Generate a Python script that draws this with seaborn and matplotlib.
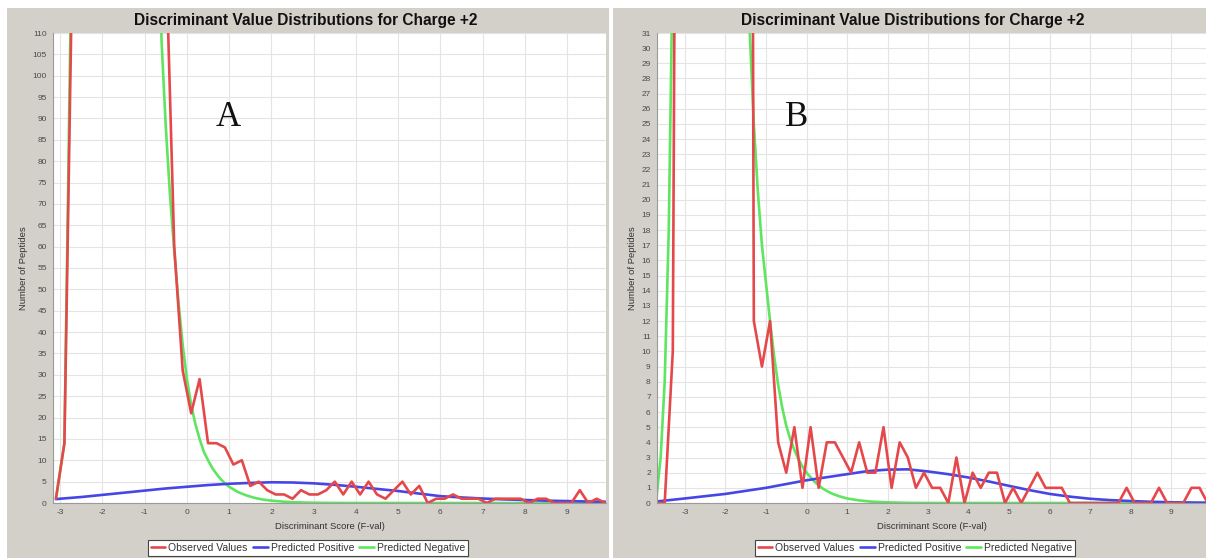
import numpy as np
import pandas as pd
import matplotlib
matplotlib.use("Agg")
import matplotlib.pyplot as plt
from matplotlib.patches import Rectangle
from matplotlib.lines import Line2D
import seaborn as sns

# ---------------- data ----------------
TITLE = "Discriminant Value Distributions for Charge +2"
XLABEL = "Discriminant Score (F-val)"
YLABEL = "Number of Peptides"
SERIES = ["Observed Values", "Predicted Positive", "Predicted Negative"]
COLORS = {"Observed Values": "#E5484B",
          "Predicted Positive": "#4646E6",
          "Predicted Negative": "#5FE55F"}

# Panel A: observed histogram (bin centres and counts)
obs_x_a = [-3.1, -2.9, -2.7, -2.5, -2.3, -2.1, -1.9, -1.7, -1.5, -1.3, -1.1,
           -0.9, -0.7, -0.5, -0.3, -0.1, 0.1, 0.3, 0.5, 0.7, 0.9, 1.1, 1.3,
           1.5, 1.7, 1.9, 2.1, 2.3, 2.5, 2.7, 2.9, 3.1, 3.3, 3.5, 3.7, 3.9,
           4.1, 4.3, 4.5, 4.7, 4.9, 5.1, 5.3, 5.5, 5.7, 5.9, 6.1, 6.3, 6.5,
           6.7, 6.9, 7.1, 7.3, 7.5, 7.7, 7.9, 8.1, 8.3, 8.5, 8.7, 8.9, 9.1,
           9.3, 9.5, 9.7, 9.9]
obs_y_a = [1, 14, 135, 420, 760, 980, 1050, 990, 880, 720, 560,
           400, 250, 130, 60, 31, 21, 29, 14, 14, 13, 9, 10,
           4, 5, 3, 2, 2, 1, 3, 2, 2, 3, 5, 2, 5,
           2, 5, 2, 1, 3, 5, 2, 4, 0, 1, 1, 2, 1,
           1, 1, 0, 1, 1, 1, 1, 0, 1, 1, 0, 0, 0,
           3, 0, 1, 0]

# Panel A: fitted positive model
pos_x_a = [-3.1, -3.0, -2.5, -2.0, -1.5, -1.0, -0.5, 0.0, 0.5, 1.0, 1.5, 2.0,
           2.5, 3.0, 3.5, 4.0, 4.5, 5.0, 5.5, 6.0, 6.5, 7.0, 7.5, 8.0, 8.5,
           9.0, 9.5, 9.9]
pos_y_a = [0.9, 1.0, 1.4, 1.9, 2.4, 2.9, 3.4, 3.8, 4.2, 4.5, 4.7, 4.85,
           4.8, 4.6, 4.25, 3.8, 3.3, 2.8, 2.2, 1.6, 1.3, 1.05, 0.85, 0.7, 0.55,
           0.45, 0.35, 0.3]

# Panel A: fitted negative model
neg_x_a = [-3.1, -2.9, -2.7, -2.5, -2.0, -1.5, -1.0, -0.8, -0.7, -0.6, -0.5,
           -0.4, -0.3, -0.2, -0.1, 0.0, 0.1, 0.2, 0.3, 0.4, 0.5, 0.6, 0.7,
           0.8, 0.9, 1.0, 1.2, 1.4, 1.6, 1.8, 2.0, 2.3, 2.6, 3.0, 3.5, 4.0, 9.9]
neg_y_a = [1.2, 14, 150, 500, 1100, 1000, 500, 220, 150, 108, 88,
           72, 59, 47, 37, 29, 23, 18.5, 15, 12, 10, 8.2, 6.8,
           5.6, 4.6, 3.8, 2.6, 1.8, 1.2, 0.8, 0.55, 0.3, 0.15, 0.06, 0.02, 0.0, 0.0]

# Panel B: observed histogram
obs_x_b = [-3.7, -3.5, -3.3, -3.1, -2.9, -2.7, -2.5, -2.3, -2.1, -1.9, -1.7,
           -1.5, -1.3, -1.1, -0.9, -0.7, -0.5, -0.3, -0.1, 0.1, 0.3, 0.5, 0.7,
           0.9, 1.1, 1.3, 1.5, 1.7, 1.9, 2.1, 2.3, 2.5, 2.7, 2.9, 3.1, 3.3,
           3.5, 3.7, 3.9, 4.1, 4.3, 4.5, 4.7, 4.9, 5.1, 5.3, 5.5, 5.7, 5.9,
           6.1, 6.3, 6.5, 6.7, 6.9, 7.1, 7.3, 7.5, 7.7, 7.9, 8.1, 8.3, 8.5,
           8.7, 8.9, 9.1, 9.3, 9.5, 9.7, 9.9]
obs_y_b = [0, 0, 10, 120, 260, 380, 430, 420, 370, 300, 230,
           200, 12, 9, 12, 4, 2, 5, 1, 5, 1, 4, 4,
           3, 2, 4, 2, 2, 5, 1, 4, 3, 1, 2, 1, 1,
           0, 3, 0, 2, 1, 2, 2, 0, 1, 0, 1, 2, 1,
           1, 1, 0, 0, 0, 0, 0, 0, 0, 1, 0, 0, 0,
           1, 0, 0, 0, 1, 1, 0]

# Panel B: fitted positive model
pos_x_b = [-3.7, -3.0, -2.5, -2.0, -1.5, -1.0, -0.5, 0.0, 0.5, 1.0, 1.5, 2.0,
           2.5, 3.0, 3.5, 4.0, 4.5, 5.0, 5.5, 6.0, 6.5, 7.0, 7.5, 8.0, 8.5,
           9.0, 9.5, 9.9]
pos_y_b = [0.1, 0.3, 0.45, 0.6, 0.8, 1.0, 1.25, 1.5, 1.7, 1.9, 2.1, 2.2,
           2.22, 2.08, 1.9, 1.68, 1.42, 1.13, 0.85, 0.6, 0.42, 0.28, 0.19, 0.13, 0.08,
           0.05, 0.03, 0.02]

# Panel B: fitted negative model
neg_x_b = [-3.7, -3.6, -3.5, -3.4, -3.3, -3.2, -3.0, -2.5, -2.0, -1.7, -1.6,
           -1.5, -1.4, -1.3, -1.2, -1.1, -1.0, -0.9, -0.8, -0.7, -0.6, -0.5,
           -0.4, -0.3, -0.2, -0.1, 0.0, 0.2, 0.4, 0.6, 0.8, 1.0, 1.3, 1.6,
           2.0, 2.5, 3.0, 9.9]
neg_y_b = [0.4, 3, 8, 18, 36, 70, 200, 450, 400, 120, 60,
           40, 31, 25, 20.5, 17, 14.5, 12, 9.7, 7.8, 6.3, 5.1,
           4.2, 3.5, 2.9, 2.4, 2.0, 1.4, 0.95, 0.65, 0.45, 0.3, 0.17, 0.09,
           0.04, 0.01, 0.0, 0.0]


def long_frame(obs_x, obs_y, pos_x, pos_y, neg_x, neg_y):
    parts = [
        pd.DataFrame({"score": neg_x, "count": neg_y, "series": "Predicted Negative"}),
        pd.DataFrame({"score": pos_x, "count": pos_y, "series": "Predicted Positive"}),
        pd.DataFrame({"score": obs_x, "count": obs_y, "series": "Observed Values"}),
    ]
    return pd.concat(parts, ignore_index=True)


df_a = long_frame(obs_x_a, obs_y_a, pos_x_a, pos_y_a, neg_x_a, neg_y_a)
df_b = long_frame(obs_x_b, obs_y_b, pos_x_b, pos_y_b, neg_x_b, neg_y_b)

# ---------------- figure ----------------
sns.set_style("white")
plt.rcParams["font.family"] = ["Liberation Sans", "DejaVu Sans"]
plt.rcParams["axes.unicode_minus"] = False

W, H = 1206, 558
fig = plt.figure(figsize=(W / 100, H / 100), dpi=100, facecolor="white")

PANEL_GREY = "#D3D0CA"


def px_rect(x0, y0, x1, y1):
    """Axes rectangle from pixel edges (origin top-left)."""
    return [x0 / W, 1 - y1 / H, (x1 - x0) / W, (y1 - y0) / H]


# grey chart backgrounds, kept behind the axes
for (x0, x1) in [(7, 609), (613, 1206)]:
    fig.patches.append(Rectangle((x0 / W, 0), (x1 - x0) / W, 1 - 8 / H,
                                 transform=fig.transFigure, facecolor=PANEL_GREY,
                                 edgecolor="none", zorder=-10))

panels = [
    dict(df=df_a, rect=px_rect(53, 33, 606, 503), xlim=(-3.17, 9.92), ylim=(0, 110),
         yticks=list(range(0, 111, 5)), title_x=306, legend_x=308, letter="A", letter_x=228),
    dict(df=df_b, rect=px_rect(657, 33, 1206, 503), xlim=(-3.69, 9.86), ylim=(0, 31),
         yticks=list(range(0, 32)), title_x=913, legend_x=915, letter="B", letter_x=797),
]

xticks = list(range(-3, 10))
hue_order = ["Predicted Negative", "Predicted Positive", "Observed Values"]

for p in panels:
    ax = fig.add_axes(p["rect"])
    ax.set_facecolor("white")
    sns.lineplot(data=p["df"], x="score", y="count", hue="series", hue_order=hue_order,
                 palette=COLORS, estimator=None, sort=True, linewidth=1.9,
                 legend=False, ax=ax)
    ax.set_xlim(*p["xlim"])
    ax.set_ylim(*p["ylim"])
    ax.set_xticks(xticks)
    ax.set_yticks(p["yticks"])
    ax.tick_params(axis="both", labelsize=6, colors="#8a8a8a", labelcolor="#4a4a4a",
                   length=2.5, width=0.6, pad=2, direction="out")
    ax.grid(True, color="#e4e4e4", linewidth=0.8)
    ax.set_axisbelow(True)
    for side in ["top", "right"]:
        ax.spines[side].set_visible(False)
    for side in ["left", "bottom"]:
        ax.spines[side].set_color("#9a9a9a")
        ax.spines[side].set_linewidth(0.8)
    ax.set_xlabel(XLABEL, fontsize=6.8, color="#333333", labelpad=4)
    ax.set_ylabel(YLABEL, fontsize=6.8, color="#333333", labelpad=3)

    # chart title
    fig.text(p["title_x"] / W, 1 - 20 / H, TITLE, ha="center", va="center",
             fontsize=11.2, fontweight="bold", color="#111111")

    # panel letter
    fig.text(p["letter_x"] / W, 1 - 118 / H, p["letter"], ha="center", va="center",
             fontsize=25, family=["Liberation Serif", "DejaVu Serif"], color="#111111")

    # legend below the chart
    handles = [Line2D([], [], color=COLORS[s], linewidth=1.9) for s in SERIES]
    leg = fig.legend(handles, SERIES, loc="center", ncol=3,
                     bbox_to_anchor=(p["legend_x"] / W, 1 - 548 / H),
                     bbox_transform=fig.transFigure, fontsize=7.5, frameon=True,
                     fancybox=False, edgecolor="#444444", framealpha=1,
                     handlelength=1.4, handletextpad=0.3, columnspacing=0.5,
                     borderpad=0.25)
    leg.get_frame().set_linewidth(0.8)
    for t in leg.get_texts():
        t.set_color("#333333")

fig.savefig("out.png", dpi=100, facecolor="white")
